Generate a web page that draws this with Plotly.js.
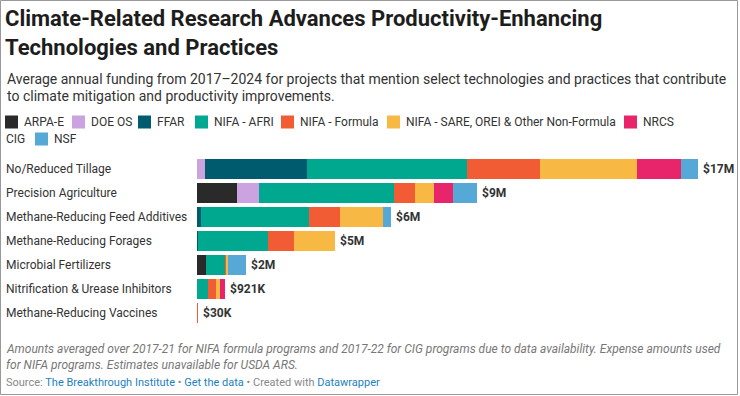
<!DOCTYPE html>
<html>
<head>
<meta charset="utf-8">
<script src="https://cdn.plot.ly/plotly-3.0.1.min.js"></script>
<style>
html,body{margin:0;padding:0;background:#fff;}
#chart{width:740px;height:396px;}
</style>
</head>
<body>
<div id="chart"></div>
<script>
// ---------- DATA (average annual funding, $ millions) ----------
const categories = [
  "No/Reduced Tillage",
  "Precision Agriculture",
  "Methane-Reducing Feed Additives",
  "Methane-Reducing Forages",
  "Microbial Fertilizers",
  "Nitrification & Urease Inhibitors",
  "Methane-Reducing Vaccines"
];
const seriesNames = [
  "ARPA-E", "DOE OS", "FFAR", "NIFA - AFRI", "NIFA - Formula",
  "NIFA - SARE, OREI & Other Non-Formula", "NRCS CIG", "NSF"
];
const arpaE       = [0,    1.32, 0,    0,    0.30, 0,     0];
const doeOS       = [0.27, 0.74, 0,    0,    0,    0,     0];
const ffar        = [3.40, 0,    0.13, 0.03, 0,    0,     0];
const nifaAfri    = [5.33, 4.49, 3.60, 2.33, 0.62, 0.38,  0];
const nifaFormula = [2.43, 0.71, 1.03, 0.87, 0.06, 0.24,  0.03];
const nifaSare    = [3.23, 0.63, 1.43, 1.37, 0.05, 0.13,  0];
const nrcsCig     = [1.47, 0.63, 0,    0,    0,    0.171, 0];
const nsf         = [0.57, 0.80, 0.27, 0,    0.61, 0,     0];
const seriesValues = [arpaE, doeOS, ffar, nifaAfri, nifaFormula, nifaSare, nrcsCig, nsf];

// ---------- STYLE ----------
const colors = ["#2a2a2a", "#cba3e1", "#005b6e", "#00a88f", "#f15c35", "#f7b944", "#e8246b", "#56a8d6"];
const FONT = "Roboto, 'Liberation Sans', sans-serif";
const L = 197, PW = 528, T = 157, PH = 168;   // plot-area pixel geometry
const px = x => (x - L) / PW;
const py = y => (T + PH - y) / PH;

const traces = seriesValues.map((vals, i) => ({
  type: "bar",
  orientation: "h",
  name: seriesNames[i],
  y: categories,
  x: vals,
  marker: {color: colors[i], line: {width: 0}},
  hoverinfo: "skip",
  showlegend: false
}));

// totals and value labels
const totals = categories.map((c, j) => seriesValues.reduce((s, arr) => s + arr[j], 0));
function fmt(v) {
  if (v >= 1) return "$" + Math.round(v) + "M";
  return "$" + Math.round(v * 1000) + "K";
}

const annotations = [];
const base = {showarrow: false, xref: "paper", yref: "paper", xanchor: "left", yanchor: "middle"};

// subtitle
annotations.push(Object.assign({}, base, {x: px(5), y: py(78.5),
  text: "Average annual funding from 2017–2024 for projects that mention select technologies and practices that contribute",
  font: {family: FONT, size: 14, color: "#333"}}));
annotations.push(Object.assign({}, base, {x: px(5), y: py(95.5),
  text: "to climate mitigation and productivity improvements.",
  font: {family: FONT, size: 14, color: "#333"}}));

// legend (manual, wraps like the original)
const legendSquareX = [5, 72, 138, 195, 281, 387, 624, 35];
const legendTextX   = [22, 89, 155, 212, 298, 404, 641, 52];
const legendRowY    = [122, 122, 122, 122, 122, 122, 122, 139];
const legendLabels  = ["ARPA-E", "DOE OS", "FFAR", "NIFA - AFRI", "NIFA - Formula",
                       "NIFA - SARE, OREI & Other Non-Formula", "NRCS", "NSF"];
const shapes = [];
legendLabels.forEach((lab, i) => {
  shapes.push({type: "rect", xref: "paper", yref: "paper",
    x0: px(legendSquareX[i]), x1: px(legendSquareX[i] + 13),
    y0: py(legendRowY[i] + 6.5), y1: py(legendRowY[i] - 6.5),
    fillcolor: colors[i], line: {width: 0}});
  annotations.push(Object.assign({}, base, {x: px(legendTextX[i]), y: py(legendRowY[i]),
    text: lab, font: {family: FONT, size: 12, color: "#333"}}));
});
annotations.push(Object.assign({}, base, {x: px(4), y: py(139),
  text: "CIG", font: {family: FONT, size: 12, color: "#333"}}));

// category labels (left aligned)
categories.forEach(c => {
  annotations.push({showarrow: false, xref: "paper", yref: "y", x: px(4), y: c,
    xanchor: "left", yanchor: "middle", text: c,
    font: {family: FONT, size: 12, color: "#333"}});
});
// value labels
categories.forEach((c, j) => {
  annotations.push({showarrow: false, xref: "x", yref: "y", x: totals[j], y: c,
    xanchor: "left", yanchor: "middle", xshift: 3, text: "<b>" + fmt(totals[j]) + "</b>",
    font: {family: FONT, size: 12, color: "#333"}});
});

// notes and source
annotations.push(Object.assign({}, base, {x: px(4), y: py(349),
  text: "<i>Amounts averaged over 2017-21 for NIFA formula programs and 2017-22 for CIG programs due to data availability. Expense amounts used</i>",
  font: {family: FONT, size: 12, color: "#777"}}));
annotations.push(Object.assign({}, base, {x: px(4), y: py(365),
  text: "<i>for NIFA programs. Estimates unavailable for USDA ARS.</i>",
  font: {family: FONT, size: 12, color: "#777"}}));
annotations.push(Object.assign({}, base, {x: px(4), y: py(382),
  text: "Source: <span style='color:#1d7fc0'>The Breakthrough Institute</span> • <span style='color:#1d7fc0'>Get the data</span> • Created with <span style='color:#1d7fc0'>Datawrapper</span>",
  font: {family: FONT, size: 11, color: "#888"}}));

// frame border
shapes.push({type: "rect", xref: "paper", yref: "paper",
  x0: px(0.5), x1: px(737.5), y0: py(394.5), y1: py(0.5),
  line: {color: "#999", width: 1}, fillcolor: "rgba(0,0,0,0)"});

const layout = {
  width: 740, height: 396,
  margin: {l: L, r: 740 - L - PW, t: T, b: 396 - T - PH, pad: 0},
  paper_bgcolor: "#fff", plot_bgcolor: "#fff",
  barmode: "stack",
  bargap: 4 / 24,
  title: {
    text: "<b>Climate-Related Research Advances Productivity-Enhancing<br>Technologies and Practices</b>",
    font: {family: FONT, size: 22, color: "#1d1d1d"},
    xref: "container", yref: "container",
    x: 5 / 740, xanchor: "left",
    y: 1 - 26 / 396, yanchor: "top"
  },
  xaxis: {range: [0, PW / 30], showgrid: false, zeroline: false, showticklabels: false, ticks: "", fixedrange: true},
  yaxis: {categoryorder: "array", categoryarray: categories, autorange: "reversed",
          showgrid: false, zeroline: false, showticklabels: false, ticks: "", fixedrange: true},
  showlegend: false,
  annotations: annotations,
  shapes: shapes,
  font: {family: FONT}
};

Plotly.newPlot("chart", traces, layout, {displayModeBar: false, staticPlot: true});
</script>
</body>
</html>
